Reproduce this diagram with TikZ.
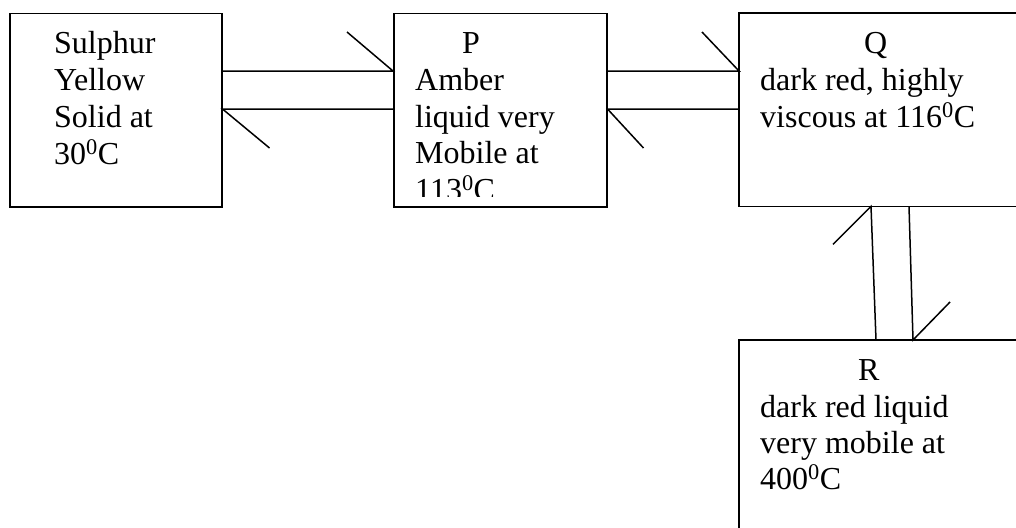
\documentclass[tikz,border=0pt]{standalone}
\usepackage{fontspec}
\setmainfont{Liberation Serif}
\begin{document}
\begin{tikzpicture}[x=1pt,y=-1pt,
  box/.style={draw,line width=1.5pt,rectangle,anchor=north west,inner sep=0pt},
  openbox/.style={rectangle,anchor=north west,inner sep=0pt},
  txt/.style={anchor=base west,inner sep=0pt,font=\fontsize{32}{36.8}\selectfont},
  conn/.style={line width=1.5pt}]
\useasboundingbox (0,0) rectangle (1016,527);
% boxes
\node[box,minimum width=212pt,minimum height=193pt] (S) at (9,13) {};
\node[box,minimum width=213pt,minimum height=193pt] (P) at (393,13) {};
\node[openbox,minimum width=290pt,minimum height=193pt] (Q) at (739,13) {};
\node[openbox,minimum width=290pt,minimum height=200pt] (R) at (739,340) {};
\draw[conn] (Q.north east) -- (Q.north west) -- (Q.south west) -- (Q.south east);
\draw[conn] (R.north east) -- (R.north west) -- (R.south west);
% texts in S
\node[txt] (s1) at (54,53) {Sulphur};
\node[txt] (s2) at (54,90) {Yellow};
\node[txt] (s3) at (54,127) {Solid at};
\node[txt] (s4) at (54,164) {30\textsuperscript{0}C};
% texts in P
\node[txt] (p0) at (462,53) {P};
\node[txt] (p1) at (415,90) {Amber};
\node[txt] (p2) at (415,127) {liquid very};
\node[txt] (p3) at (415,163) {Mobile at};
\begin{scope}
\clip (394,14) rectangle (605,196);
\node[txt] (p4) at (415,200) {113\textsuperscript{0}C};
\end{scope}
% texts in Q
\node[txt] (q0) at (864,53) {Q};
\node[txt] (q1) at (760,90) {dark red, highly};
\node[txt] (q2) at (760,127) {viscous at 116\textsuperscript{0}C};
% texts in R
\node[txt] (r0) at (858,380) {R};
\node[txt] (r1) at (760,417) {dark red liquid};
\node[txt] (r2) at (760,453) {very mobile at};
\node[txt] (r3) at (760,489) {400\textsuperscript{0}C};
% S <-> P
\draw[conn] (S.east |- 0,71) -- (P.west |- 0,71) -- ++(-46,-39);
\draw[conn] (P.west |- 0,109) -- (S.east |- 0,109) -- ++(47,39);
% P <-> Q
\draw[conn] (P.east |- 0,71) -- (Q.west |- 0,71) -- ++(-37,-39);
\draw[conn] (Q.west |- 0,109) -- (P.east |- 0,109) -- ++(36,39);
% Q <-> R
\draw[conn] (R.north west -| 876,0) -- (Q.south west -| 871,0) -- ++(-38,38);
\draw[conn] (Q.south west -| 909,0) -- (R.north west -| 913,0) -- ++(37,-38);
\end{tikzpicture}
\end{document}
